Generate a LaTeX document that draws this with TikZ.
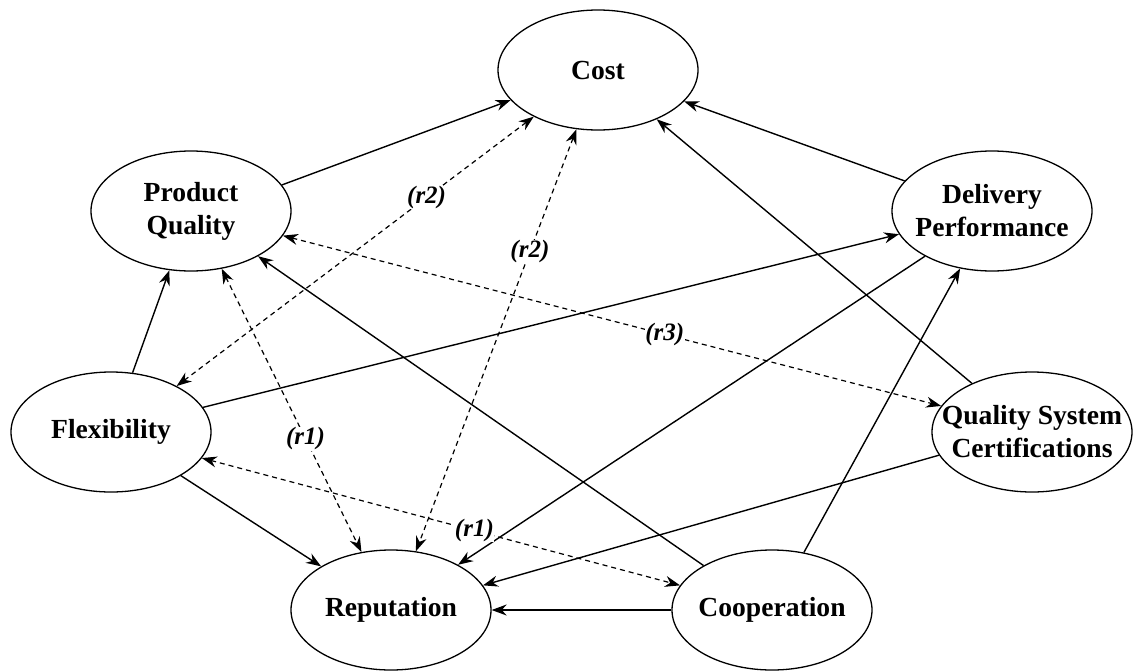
\documentclass[tikz,border=0pt]{standalone}
\usepackage{fontspec}
\setmainfont{Liberation Serif}
\usetikzlibrary{arrows.meta,shapes.geometric}
\begin{document}
\begin{tikzpicture}[x=1pt,y=-1pt,
		factor/.style={ellipse,draw,line width=1.3pt,minimum width=200pt,minimum height=120pt,
			inner xsep=-30pt,inner ysep=0pt,align=center,font=\fontsize{27.6}{33}\selectfont\bfseries},
		link/.style={line width=1.4pt,-{Stealth[length=15pt,width=11pt]}},
		corr/.style={line width=1.2pt,dash pattern=on 5pt off 4pt,
			{Stealth[length=15pt,width=11pt]}-{Stealth[length=15pt,width=11pt]}},
		rlabel/.style={fill=white,inner sep=0.5pt,font=\fontsize{25}{30}\selectfont\bfseries\itshape}]
		\useasboundingbox (0,0) rectangle (1133,670);

		\node[factor] (cost) at (598,70) {Cost};
		\node[factor] (pq) at (191,211) {Product\\Quality};
		\node[factor] (dp) at (992,211) {Delivery\\Performance};
		\node[factor] (flex) at (111,432) {Flexibility};
		\node[factor] (qsc) at (1032,432) {Quality System\\Certifications};
		\node[factor] (rep) at (391,610) {Reputation};
		\node[factor] (coop) at (772,610) {Cooperation};

		\draw[link] (pq.16) -- (cost.199);
		\draw[link] (dp.161) -- (cost.340);
		\draw[link] (qsc.141) -- (cost.320);
		\draw[link] (flex.70) -- (pq.250);
		\draw[link] (flex.15) -- (dp.194);
		\draw[link] (flex.328) -- (rep.148);
		\draw[link] (coop.147) -- (pq.326);
		\draw[link] (dp.214) -- (rep.34);
		\draw[link] (coop.61) -- (dp.241);
		\draw[link] (qsc.194) -- (rep.15);
		\draw[link] (coop.west) -- (rep.east);

		\draw[corr] (flex.35) -- node[rlabel,pos=0.7] {(r2)} (cost.216);
		\draw[corr] (cost.250) -- node[rlabel,pos=0.29] {(r2)} (rep.67);
		\draw[corr] (pq.298) -- node[rlabel,pos=0.6] {(r1)} (rep.117);
		\draw[corr] (pq.345) -- node[rlabel,pos=0.58] {(r3)} (qsc.164);
		\draw[corr] (flex.344) -- node[rlabel,pos=0.57] {(r1)} (coop.165);
	\end{tikzpicture}
\end{document}
